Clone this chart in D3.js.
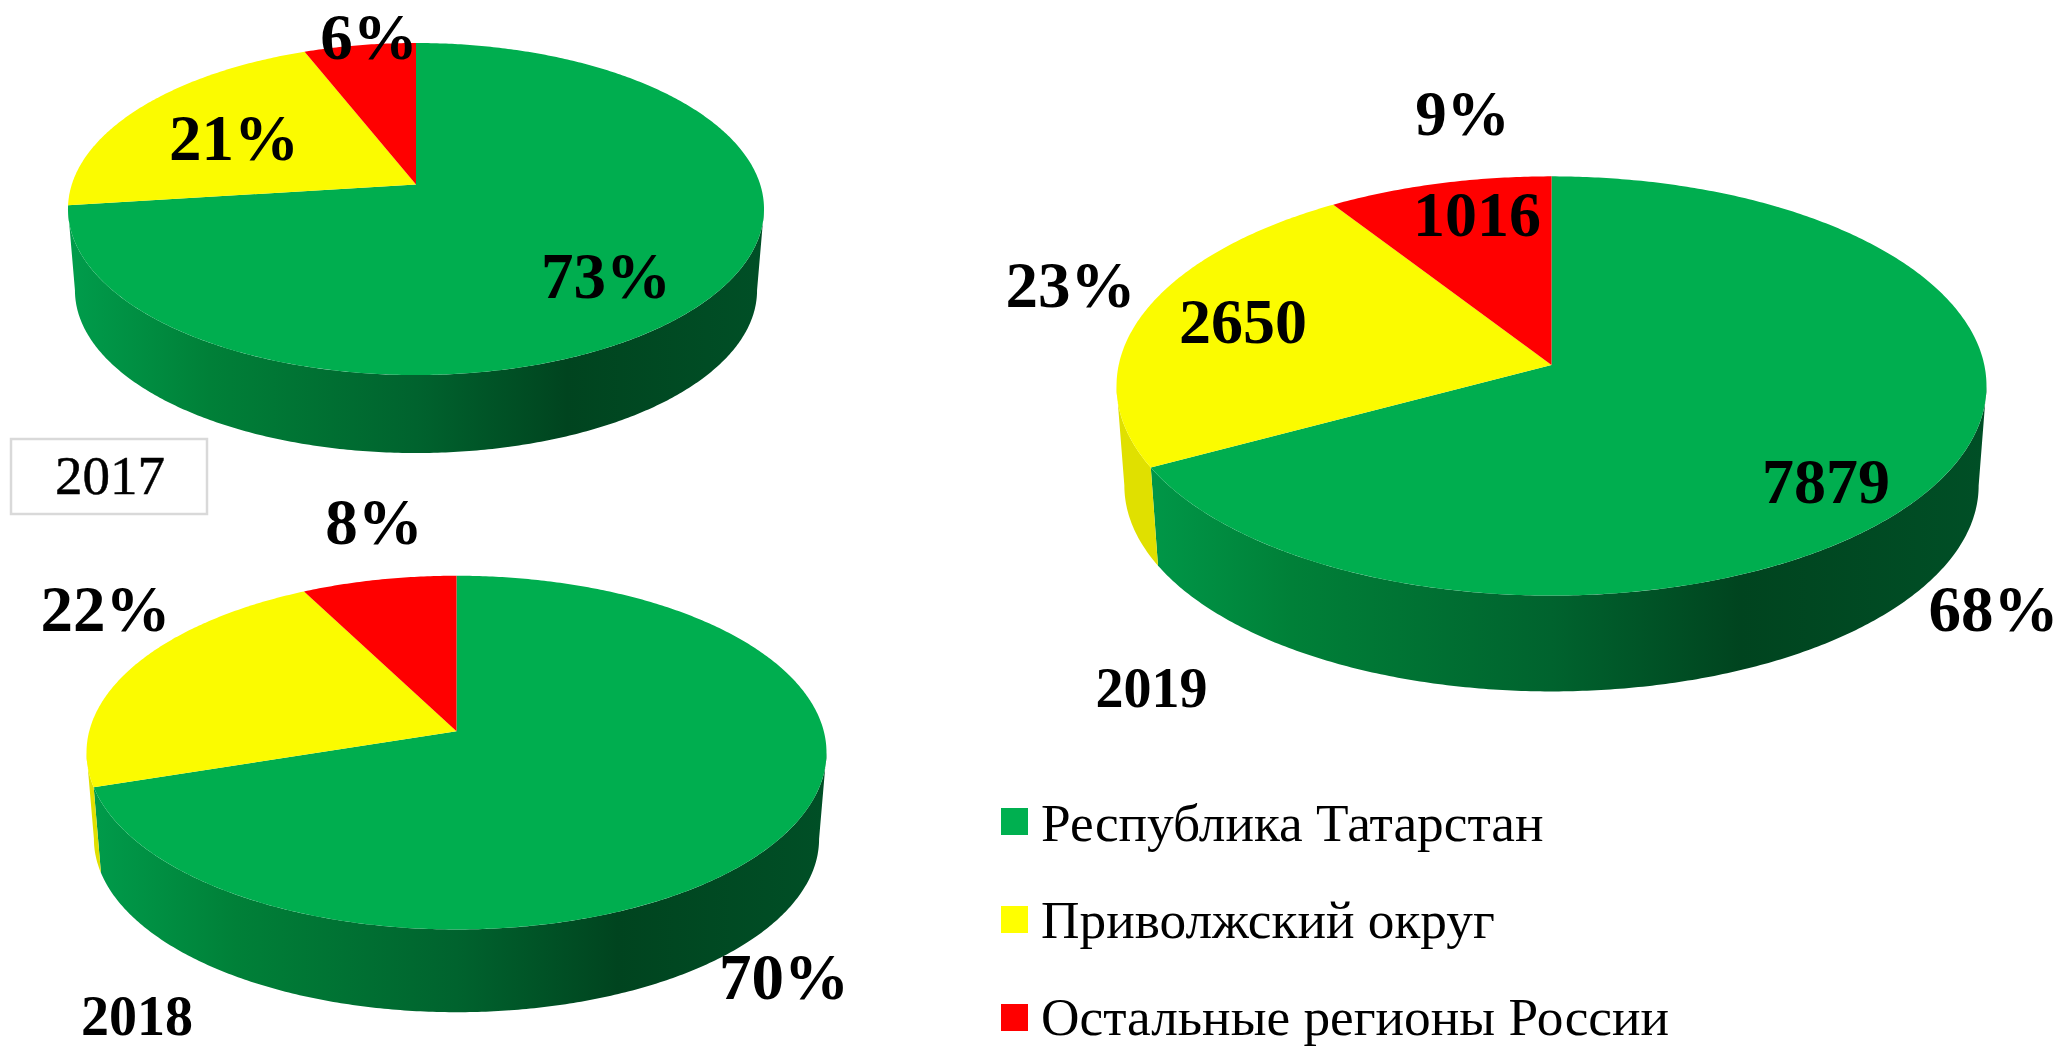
<!DOCTYPE html>
<html>
<head>
<meta charset="utf-8">
<script src="https://cdn.jsdelivr.net/npm/d3@7"></script>
<style>
  body { margin: 0; background: #fff; }
  text { font-family: "Liberation Serif", serif; fill: #000; }
</style>
</head>
<body>
<svg id="chart" width="2061" height="1047"></svg>
<script>
// regions, same order as the slices run clockwise from 12 o'clock
const regions = ["Республика Татарстан", "Приволжский округ", "Остальные регионы России"];

// slice shares measured from the slice edges in the picture
const values2017 = [73, 21, 6];
const values2018 = [70, 22.4, 7.6];
const values2019 = [67.2, 23.6, 9.2];

// numbers printed on the slices of the 2019 pie
const printed2019 = [7879, 2650, 1016];

const color = d3.scaleOrdinal().domain(regions).range(["#00ae4f", "#fbfb00", "#ff0000"]);
const legendColor = d3.scaleOrdinal().domain(regions).range(["#00b050", "#ffff00", "#ff0000"]);
const wallColor = d3.scaleOrdinal().domain(regions).range(["url(#wall)", "#e0e000", "#c80000"]);

// geometry of each tilted pie: k is the perspective strength, s/dy place the bottom rim
const pies = [
  { id: "p2017", values: values2017, cx: 416, y0: 184.5, a: 344.2, b: 162.4, k: 0.1476, s: 0.98, dy: 81.8 },
  { id: "p2018", values: values2018, cx: 456.5, y0: 731.3, a: 367.3, b: 174.3, k: 0.1204, s: 0.98, dy: 86.7 },
  { id: "p2019", values: values2019, cx: 1551.5, y0: 365, a: 432.8, b: 207.5, k: 0.1, s: 0.982, dy: 100 }
];

// [text, center x, baseline y, font size, weight]
const labels = [
  ["6%", 369, 58.6, 65, "bold"],
  ["21%", 234, 160, 65, "bold"],
  ["73%", 606, 298, 65, "bold"],
  ["8%", 374, 543.6, 65, "bold"],
  ["22%", 105.5, 631, 65, "bold"],
  ["70%", 784, 999, 65, "bold"],
  ["2018", 137, 1034.8, 56, "bold"],
  ["9%", 1462.5, 134.7, 63, "bold"],
  ["23%", 1070.5, 307, 65, "bold"],
  [String(printed2019[2]), 1477, 235.7, 64, "bold"],
  [String(printed2019[1]), 1243, 343, 64, "bold"],
  [String(printed2019[0]), 1826, 503, 64, "bold"],
  ["68%", 1993.5, 631, 65, "bold"],
  ["2019", 1151.4, 707, 56, "bold"]
];

const svg = d3.select("#chart");
const pieLayout = d3.pie().sort(null).startAngle(0).endAngle(2 * Math.PI);
const line = d3.line();

function steps(a0, a1) {
  const n = Math.max(2, Math.ceil((a1 - a0) / 0.01));
  return d3.range(n + 1).map(i => a0 + (a1 - a0) * i / n);
}

pies.forEach((p, idx) => {
  // circle point at clock angle t -> screen
  const top = (t, r = 1) => {
    const u = r * Math.sin(t), v = r * Math.cos(t), w = 1 + p.k * v;
    return [p.cx + p.a * u / w, p.y0 - p.b * v / w];
  };
  const bottom = t => {
    const q = top(t);
    return [p.cx + (q[0] - p.cx) * p.s, p.y0 + (q[1] - p.y0) * p.s + p.dy];
  };

  const g = svg.append("g");
  const arcs = pieLayout(p.values);
  arcs.forEach((d, i) => { d.region = regions[i]; });

  // side wall is visible only below the widest point of the rim
  const wallStart = Math.acos(-p.k);
  const wallEnd = 2 * Math.PI - wallStart;

  const grad = g.append("linearGradient")
    .attr("id", "wall" + idx)
    .attr("gradientUnits", "userSpaceOnUse")
    .attr("x1", p.cx - p.a).attr("x2", p.cx + p.a)
    .attr("y1", 0).attr("y2", 0);
  [[0, "#009c4b"], [0.2, "#008038"], [0.5, "#00632e"], [0.72, "#00441f"], [1, "#004f26"]].forEach(s => {
    grad.append("stop").attr("offset", s[0]).attr("stop-color", s[1]);
  });

  arcs.forEach(d => {
    const a0 = Math.max(d.startAngle, wallStart), a1 = Math.min(d.endAngle, wallEnd);
    if (a1 <= a0) return;
    const angles = steps(a0, a1);
    const pts = angles.map(t => top(t)).concat(angles.slice().reverse().map(t => bottom(t)));
    const fill = wallColor(d.region);
    g.append("path")
      .attr("d", line(pts) + "Z")
      .attr("fill", fill === "url(#wall)" ? "url(#wall" + idx + ")" : fill);
  });

  arcs.forEach(d => {
    const pts = [top(0, 0)].concat(steps(d.startAngle, d.endAngle).map(t => top(t)));
    g.append("path")
      .attr("d", line(pts) + "Z")
      .attr("fill", color(d.region));
  });
});

// the boxed 2017 caption
svg.append("rect")
  .attr("x", 11).attr("y", 439).attr("width", 196).attr("height", 75)
  .attr("fill", "#fff").attr("stroke", "#d9d9d9").attr("stroke-width", 2.5);
svg.append("text")
  .attr("x", 110).attr("y", 494).attr("text-anchor", "middle")
  .attr("font-size", 55)
  .attr("stroke", "#000").attr("stroke-width", 0.5)
  .text("2017");

svg.selectAll("text.label")
  .data(labels)
  .join("text")
  .attr("class", "label")
  .attr("x", d => d[1])
  .attr("y", d => d[2])
  .attr("text-anchor", "middle")
  .attr("font-size", d => d[3])
  .attr("font-weight", d => d[4])
  .text(d => d[0]);

// legend
const legendY = d3.scalePoint().domain(regions).range([841, 1035]);
const legend = svg.selectAll("g.legend")
  .data(regions)
  .join("g")
  .attr("class", "legend")
  .attr("transform", d => `translate(0,${legendY(d)})`);
legend.append("rect")
  .attr("x", 1001).attr("y", (d, i) => i === 2 ? -31 : i === 1 ? -32 : -33).attr("width", 27).attr("height", 27)
  .attr("fill", d => legendColor(d));
legend.append("text")
  .attr("x", 1041).attr("y", 0)
  .attr("font-size", 53.3)
  .text(d => d);
</script>
</body>
</html>
